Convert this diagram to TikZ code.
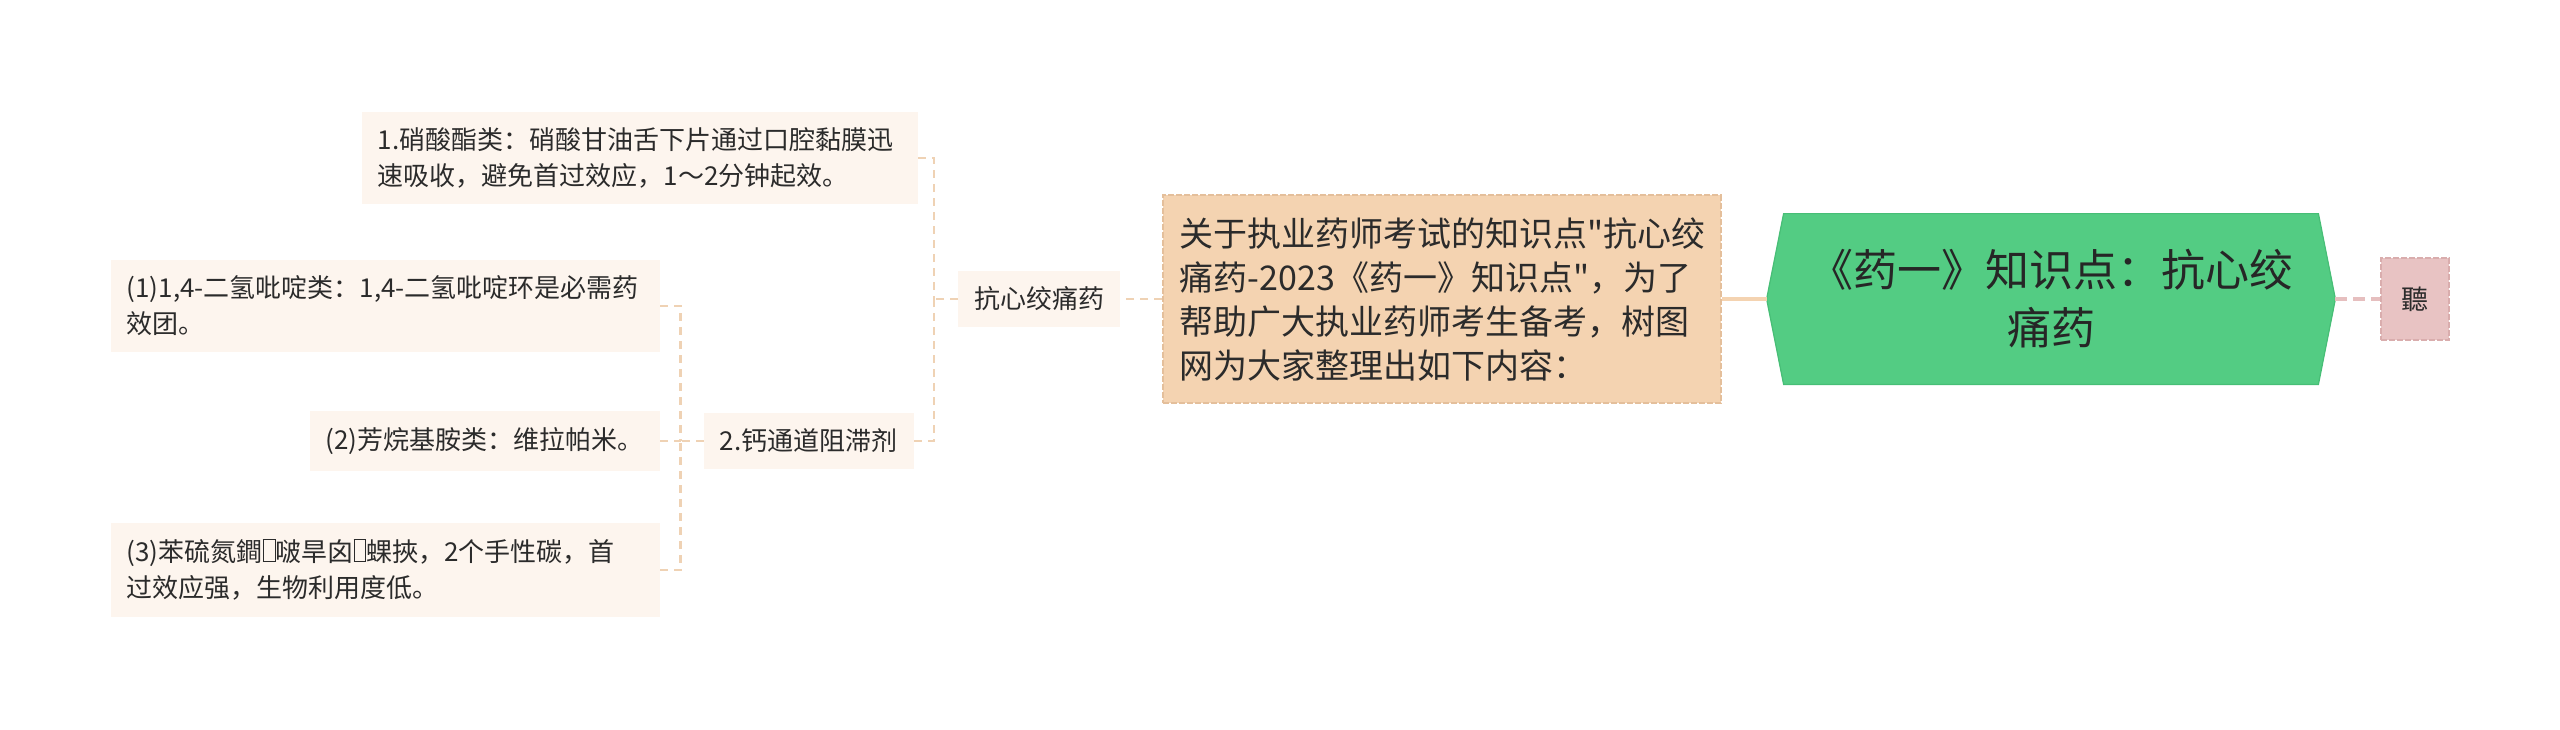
\documentclass[tikz,border=0pt]{standalone}
\usepackage{fontspec}
\newfontfamily\cjk{Noto Sans CJK SC}

\pgfdeclarelayer{background}
\pgfsetlayers{background,main}

\definecolor{leaffill}{HTML}{FDF5EE}
\definecolor{linepeach}{HTML}{EFD2B4}
\definecolor{descfill}{HTML}{F4D3B1}
\definecolor{descedge}{HTML}{E4BF9B}
\definecolor{hubgreen}{HTML}{53CC83}
\definecolor{hubedge}{HTML}{47BE76}
\definecolor{tagfill}{HTML}{E8C3C3}
\definecolor{tagedge}{HTML}{D9ADAD}
\definecolor{linepink}{HTML}{E6BFBF}
\definecolor{inkgray}{HTML}{2B2B2B}

\newcommand\tofu{\raisebox{0.05em}{\fboxsep=0pt\fboxrule=0.5pt\fbox{\rule{0pt}{0.78em}\hspace{0.42em}}}}
\exhyphenpenalty=10000
\hyphenpenalty=10000

\begin{document}
\begin{tikzpicture}[x=0.5pt,y=-0.5pt,
    leaf/.style={fill=leaffill,text=inkgray,inner xsep=8pt,inner ysep=8pt,
      font=\cjk\fontsize{13}{18}\selectfont,align=left},
    conn/.style={draw=linepeach,line width=1.2pt,dash pattern=on 4pt off 3pt},
    desc/.style={fill=descfill,draw=descedge,dash pattern=on 3pt off 1pt,line width=0.8pt,
      text=inkgray,inner xsep=8.5pt,inner ysep=11pt,font=\cjk\fontsize{17}{22}\selectfont,align=left},
    hub/.style={minimum width=267pt,minimum height=85pt,text=black!85,
      font=\cjk\fontsize{22}{29}\selectfont,align=center},
    tagbox/.style={fill=tagfill,draw=tagedge,dash pattern=on 3pt off 1pt,line width=0.8pt,
      minimum width=34pt,minimum height=41pt,inner sep=2pt,text=inkgray,
      font=\cjk\fontsize{13.5}{18}\selectfont}]
  \useasboundingbox (0,0) rectangle (2560,729);

  \node[hub] (hub) at (2051,299) {《药一》知识点：抗心绞\\痛药};
  \coordinate (hubL) at ([xshift=-8.5pt]hub.west);
  \coordinate (hubR) at ([xshift=8.5pt]hub.east);
  \begin{pgfonlayer}{background}
    \fill[hubgreen,draw=hubedge,line width=0.6pt] (hub.north west) -- (hub.north east) -- (hubR)
      -- (hub.south east) -- (hub.south west) -- (hubL) -- cycle;
  \end{pgfonlayer}

  \node[tagbox] (ting) at (2415,299) {聽};
  \node[desc,text width=262pt,anchor=west] (intro) at (1162,299)
    {关于执业药师考试的知识点"抗心绞\\痛药-2023《药一》知识点"，为了\\帮助广大执业药师考生备考，树图\\网为大家整理出如下内容：};

  \node[leaf,anchor=west] (kxj) at (958,299) {抗心绞痛药};
  \node[leaf,text width=262pt,anchor=east] (xsz) at (918,158)
    {1.硝酸酯类：硝酸甘油舌下片通过口腔黏膜迅\\速吸收，避免首过效应，1～2分钟起效。};
  \node[leaf,anchor=east] (gtd) at (914,441) {2.钙通道阻滞剂};
  \node[leaf,text width=258.5pt,anchor=east] (p1) at (660,306)
    {(1)1,4-二氢吡啶类：1,4-二氢吡啶环是必需药\\效团。};
  \node[leaf,anchor=east] (p2) at (660,441) {(2)芳烷基胺类：维拉帕米。};
  \node[leaf,text width=258.5pt,anchor=east] (p3) at (660,570)
    {(3)苯硫氮鐧\tofu 啵旱囟\tofu 蜾挾，2个手性碳，首\\过效应强，生物利用度低。};

  \coordinate (kj) at ([xshift=-12pt]kxj.west);
  \coordinate (gj) at ([xshift=-11.5pt]gtd.west);

  \draw[draw=descfill,line width=1.6pt] (intro.east) -- (hubL);
  \draw[draw=linepink,line width=1.6pt,dash pattern=on 6pt off 3pt] (hubR) -- (ting.west);
  \draw[conn] (intro.west) -- (kxj.east);
  \draw[conn] (kxj.west) -- (kj);
  \draw[conn] (xsz.east) -| (kj);
  \draw[conn] (gtd.east) -| (kj);
  \draw[conn] (gtd.west) -- (gj);
  \draw[conn] (p1.east) -| (gj);
  \draw[conn] (p2.east) -- (gj);
  \draw[conn] (p3.east) -| (gj);
\end{tikzpicture}
\end{document}
